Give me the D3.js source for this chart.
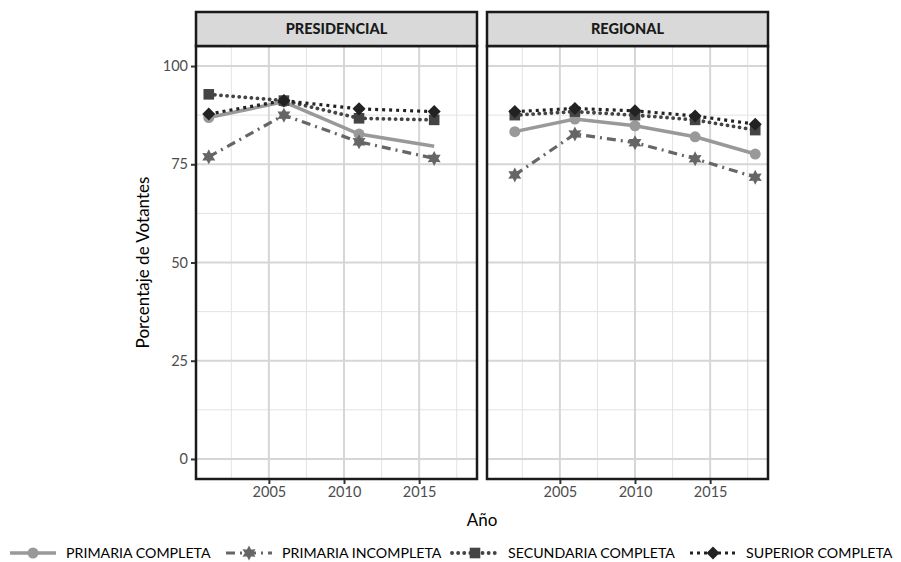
<!DOCTYPE html>
<html>
<head>
<meta charset="utf-8">
<script src="https://cdn.jsdelivr.net/npm/d3@7"></script>
<style>
    body { margin: 0; background: #fff; }
    svg { font-family: Lato, "Open Sans", sans-serif; }
</style>
</head>
<body>
<div id="chart"></div>
<script>
// Data
const panels = ["PRESIDENCIAL", "REGIONAL"];
const series = ["PRIMARIA COMPLETA", "PRIMARIA INCOMPLETA", "SECUNDARIA COMPLETA", "SUPERIOR COMPLETA"];

const presYears = [2001, 2006, 2011, 2016];
const presPrimariaCompleta = [86.9, 90.9, 82.7, 79.6];
const presPrimariaIncompleta = [76.9, 87.5, 80.7, 76.5];
const presSecundaria = [92.8, 91.2, 86.7, 86.3];
const presSuperior = [87.8, 91.2, 89.1, 88.4];
// the 2016 point of PRIMARIA COMPLETA has no marker in the original
const presCompletaMarker = [true, true, true, false];

const regYears = [2002, 2006, 2010, 2014, 2018];
const regPrimariaCompleta = [83.3, 86.5, 84.8, 82.0, 77.6];
const regPrimariaIncompleta = [72.3, 82.7, 80.5, 76.4, 71.7];
const regSecundaria = [87.5, 88.4, 87.5, 86.3, 83.7];
const regSuperior = [88.4, 89.2, 88.6, 87.3, 85.2];

const xTicks = [2005, 2010, 2015];
const yTicks = [0, 25, 50, 75, 100];

const width = 901, height = 562;
const panelTop = 46, panelBottom = 479, stripTop = 12;
const panelX = [196, 487];
const panelW = 281;

const styles = {
    "PRIMARIA COMPLETA": {color: "#999999", dash: null, cap: "butt", width: 3.5, shape: "circle"},
    "PRIMARIA INCOMPLETA": {color: "#666666", dash: "9,5,2,5", cap: "butt", width: 3.2, shape: "star"},
    "SECUNDARIA COMPLETA": {color: "#444444", dash: "0.1,6", cap: "round", width: 3.8, shape: "square"},
    "SUPERIOR COMPLETA": {color: "#222222", dash: "3,4", cap: "butt", width: 3.2, shape: "diamond"}
};

const build = (years, values, markers) => years.map((yr, i) => ({year: yr, value: values[i], marker: markers ? markers[i] : true}));

const panelData = {
    PRESIDENCIAL: {
        "PRIMARIA COMPLETA": build(presYears, presPrimariaCompleta, presCompletaMarker),
        "PRIMARIA INCOMPLETA": build(presYears, presPrimariaIncompleta),
        "SECUNDARIA COMPLETA": build(presYears, presSecundaria),
        "SUPERIOR COMPLETA": build(presYears, presSuperior)
    },
    REGIONAL: {
        "PRIMARIA COMPLETA": build(regYears, regPrimariaCompleta),
        "PRIMARIA INCOMPLETA": build(regYears, regPrimariaIncompleta),
        "SECUNDARIA COMPLETA": build(regYears, regSecundaria),
        "SUPERIOR COMPLETA": build(regYears, regSuperior)
    }
};

// six pointed star
const starPath = (r) => {
    const pts = [];
    for (let i = 0; i < 12; i++) {
        const a = Math.PI / 6 * i - Math.PI / 2;
        const rr = i % 2 === 0 ? r : r * 0.55;
        pts.push([Math.cos(a) * rr, Math.sin(a) * rr]);
    }
    return "M" + pts.map(p => p.join(",")).join("L") + "Z";
};

const marker = (g, shape, color) => {
    if (shape === "circle") {
        g.append("circle").attr("r", 5.5).attr("fill", color);
    } else if (shape === "star") {
        g.append("path").attr("d", starPath(7.5)).attr("fill", color);
    } else if (shape === "square") {
        g.append("rect").attr("x", -5.3).attr("y", -5.3).attr("width", 10.6).attr("height", 10.6).attr("fill", color);
    } else {
        g.append("path").attr("d", d3.symbol(d3.symbolSquare, 85)()).attr("transform", "rotate(45)").attr("fill", color);
    }
};

const svg = d3.select("#chart").append("svg")
    .attr("width", width)
    .attr("height", height);

const y = d3.scaleLinear()
    .domain([-5.1, 105.1])
    .range([panelBottom, panelTop]);

panels.forEach((name, pi) => {
    const x = d3.scaleLinear()
        .domain([2000.15, 2018.85])
        .range([panelX[pi], panelX[pi] + panelW]);

    const g = svg.append("g");

    // grid
    const minorX = [2002.5, 2007.5, 2012.5, 2017.5];
    const minorY = [12.5, 37.5, 62.5, 87.5];
    g.selectAll(".minx").data(minorX).join("line")
        .attr("x1", d => x(d)).attr("x2", d => x(d))
        .attr("y1", panelTop).attr("y2", panelBottom)
        .attr("stroke", "#e3e3e3").attr("stroke-width", 1);
    g.selectAll(".miny").data(minorY).join("line")
        .attr("y1", d => y(d)).attr("y2", d => y(d))
        .attr("x1", panelX[pi]).attr("x2", panelX[pi] + panelW)
        .attr("stroke", "#e3e3e3").attr("stroke-width", 1);
    g.selectAll(".majx").data(xTicks).join("line")
        .attr("x1", d => x(d)).attr("x2", d => x(d))
        .attr("y1", panelTop).attr("y2", panelBottom)
        .attr("stroke", "#d6d6d6").attr("stroke-width", 2);
    g.selectAll(".majy").data(yTicks).join("line")
        .attr("y1", d => y(d)).attr("y2", d => y(d))
        .attr("x1", panelX[pi]).attr("x2", panelX[pi] + panelW)
        .attr("stroke", "#d6d6d6").attr("stroke-width", 2);

    // series
    const line = d3.line().x(d => x(d.year)).y(d => y(d.value));
    series.forEach(s => {
        const st = styles[s];
        const data = panelData[name][s];
        g.append("path")
            .datum(data)
            .attr("d", line)
            .attr("fill", "none")
            .attr("stroke", st.color)
            .attr("stroke-width", st.width)
            .attr("stroke-linecap", st.cap)
            .attr("stroke-dasharray", st.dash);
        data.filter(d => d.marker).forEach(d => {
            const mg = g.append("g").attr("transform", `translate(${x(d.year)},${y(d.value)})`);
            marker(mg, st.shape, st.color);
        });
    });

    // panel border
    g.append("rect")
        .attr("x", panelX[pi]).attr("y", panelTop)
        .attr("width", panelW).attr("height", panelBottom - panelTop)
        .attr("fill", "none").attr("stroke", "#1a1a1a").attr("stroke-width", 2.5);

    // strip
    g.append("rect")
        .attr("x", panelX[pi]).attr("y", stripTop)
        .attr("width", panelW).attr("height", panelTop - stripTop)
        .attr("fill", "#d9d9d9").attr("stroke", "#1a1a1a").attr("stroke-width", 2.5);
    g.append("text")
        .attr("x", panelX[pi] + panelW / 2).attr("y", (stripTop + panelTop) / 2)
        .attr("dy", "0.36em")
        .attr("text-anchor", "middle")
        .attr("font-size", 14.5).attr("font-weight", 900).attr("fill", "#1a1a1a")
        .text(name);

    // x axis
    const xAxis = svg.append("g")
        .attr("transform", `translate(0,${panelBottom + 1})`)
        .call(d3.axisBottom(x).tickValues(xTicks).tickFormat(d3.format("d")).tickSize(4).tickPadding(3));
    xAxis.select(".domain").remove();
    xAxis.selectAll("line").attr("stroke", "#333").attr("stroke-width", 2);
    xAxis.selectAll("text").attr("font-size", 14.5).attr("fill", "#4d4d4d").attr("font-family", "Lato, sans-serif");
});

// y axis (left panel only)
const yAxis = svg.append("g")
    .attr("transform", `translate(${panelX[0] - 1},0)`)
    .call(d3.axisLeft(y).tickValues(yTicks).tickSize(4).tickPadding(3));
yAxis.select(".domain").remove();
yAxis.selectAll("line").attr("stroke", "#333").attr("stroke-width", 2);
yAxis.selectAll("text").attr("font-size", 14.5).attr("fill", "#4d4d4d").attr("font-family", "Lato, sans-serif");

// axis titles
svg.append("text")
    .attr("x", (panelX[0] + panelX[1] + panelW) / 2).attr("y", 526)
    .attr("text-anchor", "middle").attr("font-size", 17).attr("fill", "#000")
    .text("Año");
svg.append("text")
    .attr("transform", `translate(149,${(panelTop + panelBottom) / 2}) rotate(-90)`)
    .attr("text-anchor", "middle").attr("font-size", 17).attr("fill", "#000")
    .text("Porcentaje de Votantes");

// legend
const legendX = [10, 226, 452, 690];
const legendY = 553;
series.forEach((s, i) => {
    const st = styles[s];
    const lg = svg.append("g").attr("transform", `translate(${legendX[i]},${legendY})`);
    lg.append("line")
        .attr("x1", 0).attr("x2", 46)
        .attr("stroke", st.color).attr("stroke-width", st.width)
        .attr("stroke-linecap", st.cap)
        .attr("stroke-dasharray", st.dash);
    const mg = lg.append("g").attr("transform", "translate(23,0)");
    marker(mg, st.shape, st.color);
    lg.append("text")
        .attr("x", 56).attr("dy", "0.36em")
        .attr("font-size", 14.2).attr("fill", "#000")
        .text(s);
});
</script>
</body>
</html>
